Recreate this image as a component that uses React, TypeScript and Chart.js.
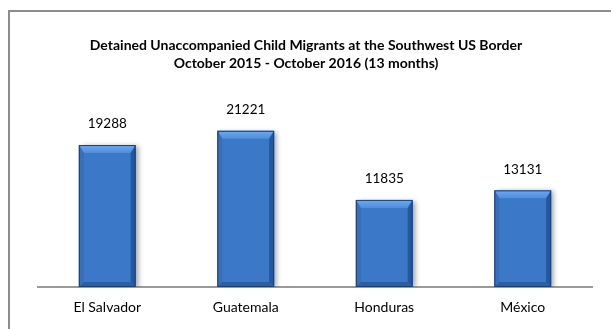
import React, { useEffect, useRef } from "react";
import { Chart, registerables } from "chart.js";

Chart.register(...registerables);

const categories = ["El Salvador", "Guatemala", "Honduras", "México"];
const values = [19288, 21221, 11835, 13131];
const titleLines = [
  "Detained Unaccompanied Child Migrants at the Southwest US Border",
  "October 2015 - October 2016 (13 months)",
];
const yMax = 25000;

const FONT = "Lato, 'Open Sans', sans-serif";

const framePlugin = {
  id: "frame",
  beforeDraw(chart: any) {
    const ctx = chart.ctx;
    ctx.save();
    ctx.fillStyle = "#ffffff";
    ctx.fillRect(0, 0, chart.width, chart.height);
    ctx.strokeStyle = "#8c8c8c";
    ctx.lineWidth = 2;
    ctx.beginPath();
    ctx.moveTo(9, chart.height + 5);
    ctx.lineTo(9, 11);
    ctx.lineTo(chart.width + 5, 11);
    ctx.stroke();
    ctx.restore();
  },
};

const titlePlugin = {
  id: "customTitle",
  afterDraw(chart: any) {
    const ctx = chart.ctx;
    ctx.save();
    ctx.fillStyle = "#000";
    ctx.font = `bold 14px ${FONT}`;
    ctx.textAlign = "center";
    ctx.textBaseline = "middle";
    ctx.fillText(titleLines[0], 306, 45);
    ctx.fillText(titleLines[1], 306, 63);
    ctx.restore();
  },
};

const bevelPlugin = {
  id: "bevel",
  beforeDatasetsDraw(chart: any) {
    const ctx = chart.ctx;
    ctx.save();
    ctx.shadowColor = "rgba(0,0,0,0.35)";
    ctx.shadowBlur = 5;
    ctx.shadowOffsetX = 3;
    ctx.shadowOffsetY = 1;
  },
  afterDatasetsDraw(chart: any) {
    const ctx = chart.ctx;
    ctx.restore();
    const meta = chart.getDatasetMeta(0);
    ctx.save();
    meta.data.forEach((bar: any, i: number) => {
      const w = bar.width;
      const l = bar.x - w / 2;
      const r = bar.x + w / 2;
      const t = bar.y;
      const b = bar.base;
      const bv = 8;
      const sv = 5;
      // top bevel
      const gTop = ctx.createLinearGradient(0, t, 0, t + bv);
      gTop.addColorStop(0, "#6eaaf0");
      gTop.addColorStop(1, "#4f8ddc");
      ctx.fillStyle = gTop;
      ctx.beginPath();
      ctx.moveTo(l, t);
      ctx.lineTo(r, t);
      ctx.lineTo(r - sv, t + bv);
      ctx.lineTo(l + sv, t + bv);
      ctx.closePath();
      ctx.fill();
      // left bevel
      ctx.fillStyle = "#3570bd";
      ctx.beginPath();
      ctx.moveTo(l, t);
      ctx.lineTo(l + sv, t + bv);
      ctx.lineTo(l + sv, b - sv);
      ctx.lineTo(l, b);
      ctx.closePath();
      ctx.fill();
      // right bevel
      ctx.fillStyle = "#25579a";
      ctx.beginPath();
      ctx.moveTo(r, t);
      ctx.lineTo(r, b);
      ctx.lineTo(r - sv, b - sv);
      ctx.lineTo(r - sv, t + bv);
      ctx.closePath();
      ctx.fill();
      // bottom bevel
      ctx.fillStyle = "#2b5fa5";
      ctx.beginPath();
      ctx.moveTo(l, b);
      ctx.lineTo(l + sv, b - sv);
      ctx.lineTo(r - sv, b - sv);
      ctx.lineTo(r, b);
      ctx.closePath();
      ctx.fill();
      // outline
      ctx.strokeStyle = "#1c3f70";
      ctx.lineWidth = 1;
      ctx.strokeRect(l + 0.5, t + 0.5, w - 1, b - t - 1);
      // value label
      ctx.fillStyle = "#000";
      ctx.font = `13.5px ${FONT}`;
      ctx.textAlign = "center";
      ctx.textBaseline = "middle";
      ctx.fillText(String(values[i]), bar.x, t - 21);
    });
    ctx.restore();
  },
};

export default function App() {
  const ref = useRef<HTMLCanvasElement>(null);
  useEffect(() => {
    const canvas = ref.current!;
    const chart = new Chart(canvas, {
      type: "bar",
      data: {
        labels: categories,
        datasets: [
          {
            data: values,
            backgroundColor: "#3b78c8",
            borderWidth: 0,
            categoryPercentage: 1,
            barPercentage: 0.41,
          },
        ],
      },
      options: {
        animation: false,
        responsive: false,
        maintainAspectRatio: false,
        devicePixelRatio: 1,
        layout: { padding: { left: 38, right: 19, top: 103, bottom: 0 } },
        plugins: {
          legend: { display: false },
          title: { display: false },
          tooltip: { enabled: false },
        },
        scales: {
          x: {
            grid: { display: false, drawTicks: false },
            border: { display: true, color: "#9a9a9a", width: 2 },
            ticks: {
              color: "#000",
              font: { family: FONT, size: 14 },
              padding: 12,
            },
            afterFit(scale: any) {
              scale.height = 42;
            },
          },
          y: {
            display: false,
            min: 0,
            max: yMax,
          },
        },
      },
      plugins: [framePlugin, bevelPlugin, titlePlugin],
    });
    return () => chart.destroy();
  }, []);
  return (
    <div style={{ position: "fixed", left: 0, top: 0, width: 611, height: 329 }}>
      <canvas ref={ref} width={611} height={329} style={{ display: "block" }} />
    </div>
  );
}
